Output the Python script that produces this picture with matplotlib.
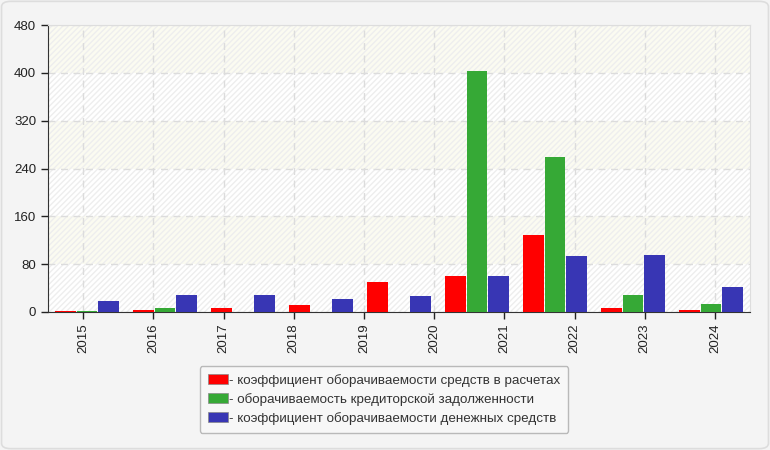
import numpy as np
import matplotlib
matplotlib.use("Agg")
import matplotlib.pyplot as plt
from matplotlib.patches import FancyBboxPatch, Patch

plt.rcParams["font.family"] = ["Liberation Sans", "DejaVu Sans"]

# data (9 bar groups drawn across 10 year labels, as in the source chart)
years = ["2015", "2016", "2017", "2018", "2019", "2020", "2021", "2022", "2023", "2024"]
settlements = [2, 4, 6, 11, 51, 61, 128, 6, 4]
payables = [2, 6, 0, 0, 0, 403, 260, 28, 14]
cash = [19, 29, 28, 21, 26, 61, 94, 96, 42]

labels = ["- коэффициент оборачиваемости средств в расчетах",
          "- оборачиваемость кредиторской задолженности",
          "- коэффициент оборачиваемости денежных средств"]
colors = ["#ff0000", "#36a936", "#3836b4"]

fig = plt.figure(figsize=(7.7, 4.5), dpi=100)
fig.patch.set_facecolor("#f4f4f4")
fig.patches.append(FancyBboxPatch((0.002, 0.003), 0.996, 0.994,
                                  boxstyle="round,pad=0,rounding_size=0.012",
                                  transform=fig.transFigure, facecolor="none",
                                  edgecolor="#dddddd", linewidth=1.2))

ax = fig.add_axes([48 / 770, 138 / 450, 702 / 770, 287 / 450])
ax.set_facecolor("white")

n = len(settlements)
x = np.arange(n) + 0.5
w = 0.28
ymax = 480

# alternating background bands
step = 80
for lo in range(0, ymax, step):
    fc = "#fbfbf1" if (ymax - lo) // step % 2 == 1 else "#ffffff"
    ax.axhspan(lo, lo + step, facecolor=fc, edgecolor="#eeeeee", hatch="//////",
               linewidth=0, zorder=0)

for i, (vals, c) in enumerate(zip([settlements, payables, cash], colors)):
    ax.bar(x + (i - 1) * w, vals, width=w * 0.96, color=c, zorder=3)

ax.set_xlim(0, n)
ax.set_ylim(0, ymax)
ax.set_yticks(np.arange(0, ymax + 1, step))

xt = (np.arange(len(years)) + 0.5) * n / len(years)
ax.set_xticks(xt)
ax.set_xticklabels(years, rotation=90)
ax.tick_params(axis="both", labelsize=9.5, colors="#222222", length=5, width=1)
ax.tick_params(axis="x", pad=3)

ax.grid(True, linestyle=(0, (5, 4)), color="#dcdcdc", linewidth=1, zorder=1)
ax.set_axisbelow(True)

ax.spines["left"].set_color("#333333")
ax.spines["bottom"].set_color("#333333")
ax.spines["top"].set_color("#dddddd")
ax.spines["right"].set_color("#dddddd")

handles = [Patch(facecolor=c, edgecolor="#888888", linewidth=0.5) for c in colors]
leg = fig.legend(handles, labels, loc="upper center", bbox_to_anchor=(0.4987, 0.187),
                 fontsize=9.6, frameon=True, fancybox=True, handlelength=1.5,
                 handleheight=0.8, handletextpad=0.1, labelspacing=0.45,
                 borderpad=0.6, borderaxespad=0, labelcolor="#333333")
leg.get_frame().set_facecolor("#f9f9f9")
leg.get_frame().set_edgecolor("#aaaaaa")

fig.savefig("out.png", dpi=100, facecolor=fig.get_facecolor())
